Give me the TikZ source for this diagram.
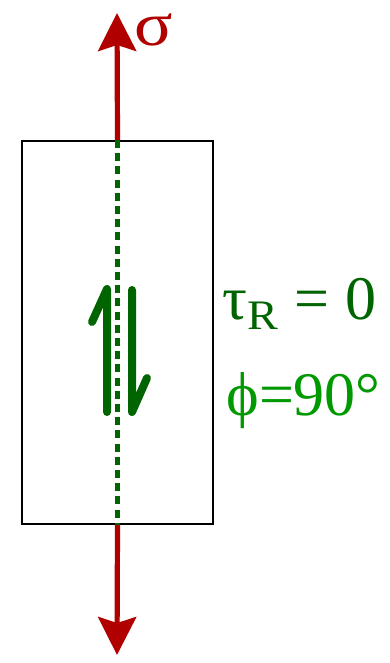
\documentclass[tikz,border=0pt]{standalone}
\usepackage{fontspec}
\setmainfont{Liberation Serif}
\usepackage{xcolor}
\usetikzlibrary{arrows.meta,positioning}
\definecolor{sigred}{RGB}{176,0,0}
\definecolor{taugreen}{RGB}{0,100,0}
\definecolor{phigreen}{RGB}{0,153,0}
\begin{document}
\begin{tikzpicture}[
  x=0.5pt,y=-0.5pt,
  boxline/.style={draw,line width=1pt,minimum width=95.5pt,minimum height=191.5pt,inner sep=0pt},
  sigarrow/.style={draw=sigred,line width=2.6pt,-{Stealth[length=19pt,width=19pt,inset=3pt]}},
  shearline/.style={draw=taugreen,line width=2.2pt,dash pattern=on 4pt off 2.6pt},
  harpoon/.style={draw=taugreen,line width=4pt,line cap=round,line join=round},
  lbl/.style={anchor=base west,inner sep=0pt,font=\fontsize{31}{37}\selectfont}]
\useasboundingbox (0,0) rectangle (390,663);
\node[boxline] (box) at (117.5,332.5) {};
\coordinate (toptip) at (117,13);
\coordinate (bottip) at (117,655);
\draw[shearline] (box.north) -- (box.south);
\draw[sigarrow] (box.north) -- (toptip);
\draw[sigarrow] (box.south) -- (bottip);
\node[lbl,text=sigred] (sig) at (134,46) {\scalebox{1.15}[1]{σ}};
% shear half-arrows
\draw[harpoon] (92,322) -- (107,289) -- (107,412);
\draw[harpoon] (132,290) -- (132,412) -- (147,378);
\node[lbl,text=taugreen] (tau) at (222,319)
  {τ\raisebox{-5pt}{\fontsize{21}{24}\selectfont\scalebox{1.1}[1]{R}}\hspace{8pt}=\hspace{8pt}0};
\node[lbl,text=phigreen] (phi) at (226,415) {ϕ=90°};
\end{tikzpicture}
\end{document}
